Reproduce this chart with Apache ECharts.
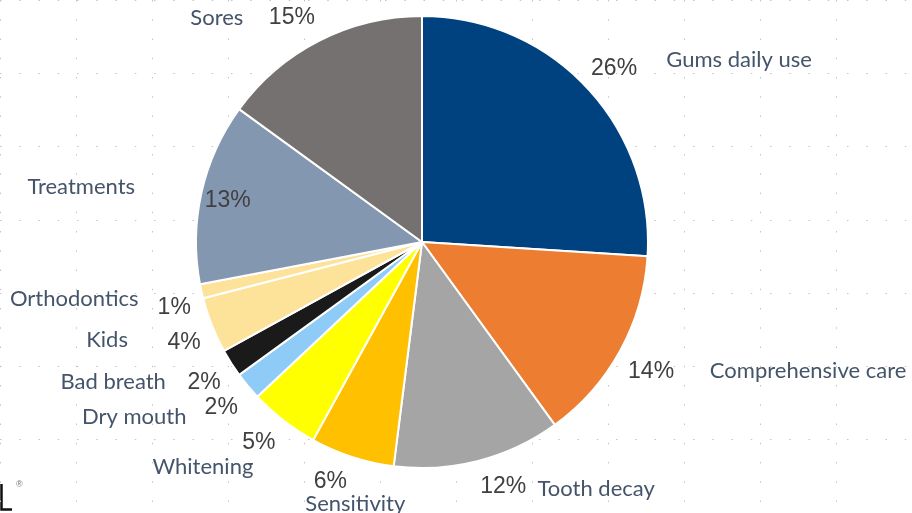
<!DOCTYPE html>
<html>
<head>
<meta charset="utf-8">
<script src="https://cdn.jsdelivr.net/npm/echarts@6/dist/echarts.min.js"></script>
<style>
html,body{margin:0;padding:0;background:#fff;}
#chart{width:912px;height:513px;}
</style>
</head>
<body>
<div id="chart"></div>
<script>
// ---- data ----
const categories = ['Gums daily use','Comprehensive care','Tooth decay','Sensitivity','Whitening','Dry mouth','Bad breath','Kids','Orthodontics','Treatments','Sores'];
const values = [26,14,12,6,5,2,2,4,1,13,15];
const colors = ['#00427F','#ED7D31','#A5A5A5','#FFC000','#FFFF00','#8FCBF7','#1A1A1A','#FDE29A','#FDE29A','#8497B0','#767171'];
const pctLabels = ['26%','14%','12%','6%','5%','2%','2%','4%','1%','13%','15%'];
// which percentage labels sit inside the slice
const pctInside = [false,false,false,false,false,false,false,false,false,true,false];

// ---- label layout tweaks (text only) ----
const pctShift = [[4,3],[3,5],[17,-5],[-12,-6],[-5,-3],[-2,1],[0,2],[2,6],[4,9],[-1,2],[-13,6]];
const nameShift = [[129,-5],[160,5],[110,-3],[13,17],[-61,21],[-89,10],[-91,2],[-75,3],[-96,1],[-89,1],[-88,6]];

const CENTER = [422, 242];
const R = 226;

const chart = echarts.init(document.getElementById('chart'), null, {renderer:'canvas'});

const mainData = categories.map((c,i)=>({name:c, value:values[i], itemStyle:{color:colors[i]}}));
const pctOuterData = categories.map((c,i)=>({name:c, value:values[i], label:{show:!pctInside[i], formatter:pctLabels[i]}}));
const pctInnerData = categories.map((c,i)=>({name:c, value:values[i], label:{show:pctInside[i], formatter:pctLabels[i]}}));
const nameData = categories.map((c,i)=>({name:c, value:values[i]}));

const ghost = {
  type:'pie', center:CENTER, startAngle:90, clockwise:true, silent:true,
  avoidLabelOverlap:false, labelLine:{show:false},
  itemStyle:{color:'rgba(0,0,0,0)', borderWidth:0},
  emphasis:{disabled:true}
};

const pctStyle = {position:'inside', color:'#404040', fontSize:23, fontFamily:'"Liberation Sans", Arial, sans-serif'};

chart.setOption({
  animation:false,
  backgroundColor:'#ffffff',
  grid:{left:-3, top:-24, width:924, height:539, containLabel:false},
  xAxis:{type:'value', min:0, max:924, interval:77, axisLine:{show:false}, axisTick:{show:false}, axisLabel:{show:false},
    splitLine:{show:true, lineStyle:{color:'#c4c4c4', width:1, type:[1.5,17.75]}}},
  yAxis:{type:'value', min:0, max:539, interval:77, axisLine:{show:false}, axisTick:{show:false}, axisLabel:{show:false},
    splitLine:{show:true, lineStyle:{color:'#c4c4c4', width:1, type:[1.5,17.75]}}},
  graphic:[
    {type:'polyline', shape:{points:[[1.5,484],[1.5,509.5],[12,509.5]]}, style:{stroke:'#111', lineWidth:2.5, fill:null}},
    {type:'text', left:16, top:480, style:{text:'®', fontSize:9, fontFamily:'"Liberation Sans", Arial', fill:'#777'}}
  ],
  series:[
    {
      type:'pie', name:'main', center:CENTER, radius:R, startAngle:90, clockwise:true,
      data:mainData, label:{show:false}, labelLine:{show:false},
      itemStyle:{borderColor:'#ffffff', borderWidth:2},
      emphasis:{disabled:true}
    },
    Object.assign({}, ghost, {
      name:'pctOuter', radius:[240,270], data:pctOuterData, label:pctStyle,
      labelLayout:(p)=>({dx:pctShift[p.dataIndex][0], dy:pctShift[p.dataIndex][1]})
    }),
    Object.assign({}, ghost, {
      name:'pctInner', radius:[180,210], data:pctInnerData, label:pctStyle,
      labelLayout:(p)=>({dx:pctShift[p.dataIndex][0], dy:pctShift[p.dataIndex][1]})
    }),
    Object.assign({}, ghost, {
      name:'names', radius:[240,270], data:nameData,
      label:{show:true, position:'inside', formatter:'{b}', color:'#44546A', fontSize:22, fontFamily:'Lato, "Open Sans", sans-serif'},
      labelLayout:(p)=>({dx:nameShift[p.dataIndex][0], dy:nameShift[p.dataIndex][1]})
    })
  ]
});
</script>
</body>
</html>
